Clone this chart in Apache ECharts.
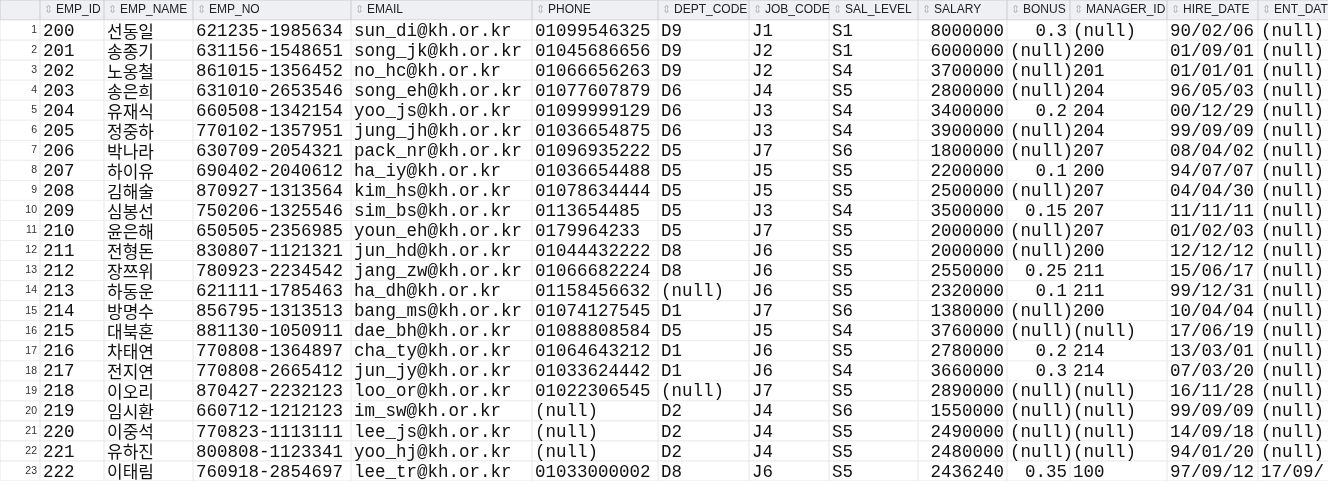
<!DOCTYPE html>
<html><head><meta charset="utf-8">
<script src="https://cdn.jsdelivr.net/npm/echarts@6/dist/echarts.min.js"></script>
<style>html,body{margin:0;padding:0;background:#fff}#c{width:1328px;height:487px}</style>
</head><body><div id="c"></div>
<script>
var columns = ['EMP_ID','EMP_NAME','EMP_NO','EMAIL','PHONE','DEPT_CODE','JOB_CODE','SAL_LEVEL','SALARY','BONUS','MANAGER_ID','HIRE_DATE','ENT_DATE'];
var empId = ['200','201','202','203','204','205','206','207','208','209','210','211','212','213','214','215','216','217','218','219','220','221','222'];
var empName = ['선동일','송종기','노옹철','송은희','유재식','정중하','박나라','하이유','김해술','심봉선','윤은해','전형돈','장쯔위','하동운','방명수','대북혼','차태연','전지연','이오리','임시환','이중석','유하진','이태림'];
var empNo = ['621235-1985634','631156-1548651','861015-1356452','631010-2653546','660508-1342154','770102-1357951','630709-2054321','690402-2040612','870927-1313564','750206-1325546','650505-2356985','830807-1121321','780923-2234542','621111-1785463','856795-1313513','881130-1050911','770808-1364897','770808-2665412','870427-2232123','660712-1212123','770823-1113111','800808-1123341','760918-2854697'];
var email = ['sun_di@kh.or.kr','song_jk@kh.or.kr','no_hc@kh.or.kr','song_eh@kh.or.kr','yoo_js@kh.or.kr','jung_jh@kh.or.kr','pack_nr@kh.or.kr','ha_iy@kh.or.kr','kim_hs@kh.or.kr','sim_bs@kh.or.kr','youn_eh@kh.or.kr','jun_hd@kh.or.kr','jang_zw@kh.or.kr','ha_dh@kh.or.kr','bang_ms@kh.or.kr','dae_bh@kh.or.kr','cha_ty@kh.or.kr','jun_jy@kh.or.kr','loo_or@kh.or.kr','im_sw@kh.or.kr','lee_js@kh.or.kr','yoo_hj@kh.or.kr','lee_tr@kh.or.kr'];
var phone = ['01099546325','01045686656','01066656263','01077607879','01099999129','01036654875','01096935222','01036654488','01078634444','0113654485','0179964233','01044432222','01066682224','01158456632','01074127545','01088808584','01064643212','01033624442','01022306545','(null)','(null)','(null)','01033000002'];
var deptCode = ['D9','D9','D9','D6','D6','D6','D5','D5','D5','D5','D5','D8','D8','(null)','D1','D5','D1','D1','(null)','D2','D2','D2','D8'];
var jobCode = ['J1','J2','J2','J4','J3','J3','J7','J5','J5','J3','J7','J6','J6','J6','J7','J5','J6','J6','J7','J4','J4','J4','J6'];
var salLevel = ['S1','S1','S4','S5','S4','S4','S6','S5','S5','S4','S5','S5','S5','S5','S6','S4','S5','S4','S5','S6','S5','S5','S5'];
var salary = ['8000000','6000000','3700000','2800000','3400000','3900000','1800000','2200000','2500000','3500000','2000000','2000000','2550000','2320000','1380000','3760000','2780000','3660000','2890000','1550000','2490000','2480000','2436240'];
var bonus = ['0.3','(null)','(null)','(null)','0.2','(null)','(null)','0.1','(null)','0.15','(null)','(null)','0.25','0.1','(null)','(null)','0.2','0.3','(null)','(null)','(null)','(null)','0.35'];
var managerId = ['(null)','200','201','204','204','204','207','200','207','207','207','200','211','211','200','(null)','214','214','(null)','(null)','(null)','(null)','100'];
var hireDate = ['90/02/06','01/09/01','01/01/01','96/05/03','00/12/29','99/09/09','08/04/02','94/07/07','04/04/30','11/11/11','01/02/03','12/12/12','15/06/17','99/12/31','10/04/04','17/06/19','13/03/01','07/03/20','16/11/28','99/09/09','14/09/18','94/01/20','97/09/12'];
var entDate = ['(null)','(null)','(null)','(null)','(null)','(null)','(null)','(null)','(null)','(null)','(null)','(null)','(null)','(null)','(null)','(null)','(null)','(null)','(null)','(null)','(null)','(null)','17/09/'];

var colData = [empId, empName, empNo, email, phone, deptCode, jobCode, salLevel, salary, bonus, managerId, hireDate, entDate];
// layout: column left edges in px (first is row-number column)
var edges = [0, 40, 104, 193, 351, 532, 658, 749, 829, 918, 1007, 1070, 1167, 1258, 1400];
var rightAlign = {9: true, 10: true}; // SALARY, BONUS (1-based, 0 = row numbers)

var rows = ['H'];
for (var i = 0; i < empId.length; i++) rows.push(String(i + 1));
var cells = [];
for (var r = 0; r < rows.length; r++) {
  for (var c = -1; c < columns.length; c++) cells.push([c + 1, r]);
}

function renderItem(params, api) {
  var c = api.value(0), r = api.value(1);
  var x0 = edges[c], x1 = edges[c + 1];
  var yc = api.coord([0, r])[1];
  var h = api.size([0, 1])[1];
  var y0 = yc - h / 2;
  var ch = [];
  var header = r === 0;
  ch.push({type: 'rect', shape: {x: x0, y: y0, width: x1 - x0, height: h},
    style: {fill: header ? '#eef0f4' : '#fff', stroke: header ? '#c9ccd2' : '#e6e6e6', lineWidth: 1}});
  if (header) {
    if (c > 0) {
      ch.push({type: 'text', style: {text: '⇕', x: x0 + 4, y: yc, fill: '#b8b8b8', font: '11px DejaVu Sans', verticalAlign: 'middle'}});
      ch.push({type: 'text', style: {text: columns[c - 1], x: x0 + 16, y: yc, fill: '#222', font: '12px "Liberation Sans"', verticalAlign: 'middle'}});
    }
  } else if (c === 0) {
    ch.push({type: 'text', style: {text: rows[r], x: x1 - 3, y: yc, fill: '#333', font: '10.5px "Liberation Sans"', align: 'right', verticalAlign: 'middle'}});
  } else {
    var txt = colData[c - 1][r - 1];
    var isName = c === 2;
    var right = rightAlign[c] && txt !== '(null)';
    ch.push({type: 'text', style: {text: txt, x: right ? x1 - 3 : x0 + 3, y: yc + 1, fill: '#111',
      font: isName ? '17px "Noto Sans CJK KR"' : '17.5px "Liberation Mono"',
      align: right ? 'right' : 'left', verticalAlign: 'middle'}});
  }
  return {type: 'group', children: ch, clipPath: {type: 'rect', shape: {x: x0, y: y0, width: x1 - x0, height: h}}};
}

var chart = echarts.init(document.getElementById('c'));
chart.setOption({
  animation: false,
  grid: {left: 0, right: 0, top: 0, bottom: 6},
  xAxis: {type: 'value', min: 0, max: 1328, show: false},
  yAxis: {type: 'category', data: rows, inverse: true, show: false},
  series: [{type: 'custom', renderItem: renderItem, data: cells, silent: true}]
});
</script></body></html>
